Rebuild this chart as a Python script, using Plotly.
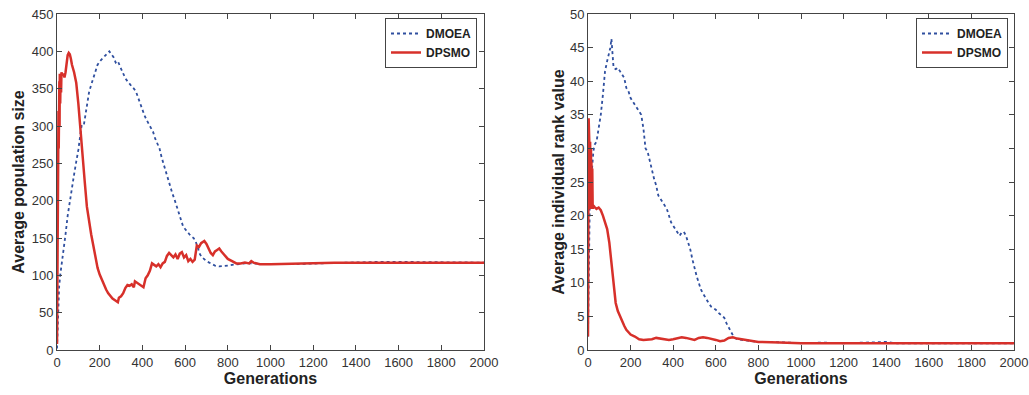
import plotly.graph_objects as go

# ---- Left panel: Average population size ----
pop_dmoea_gen = [0, 5, 10, 15, 20, 30, 40, 50, 60, 70, 80, 90, 100, 110, 115, 125, 135, 150, 160, 175,
                 190, 205, 220, 235, 245, 255, 265, 275, 285, 295, 310, 320, 330, 340, 350, 360, 370, 380,
                 390, 400, 410, 420, 430, 440, 450, 460, 470, 480, 490, 500, 510, 520, 530, 540, 550, 560,
                 570, 580, 590, 600, 610, 620, 630, 640, 650, 660, 670, 680, 690, 700, 720, 740, 760, 780,
                 800, 820, 840, 860, 880, 900, 950, 1000, 1100, 1200, 1300, 1400, 1500, 1600, 1700, 1800,
                 1850, 1900, 2000]
pop_dmoea_val = [2, 50, 85, 100, 110, 130, 155, 180, 200, 218, 235, 252, 268, 290, 300, 300, 318, 345, 355, 370,
                 382, 388, 393, 398, 400, 396, 392, 385, 387, 380, 370, 364, 360, 356, 353, 350, 346, 338,
                 330, 320, 314, 308, 302, 298, 292, 283, 276, 270, 258, 248, 240, 228, 218, 210, 202, 193,
                 185, 175, 166, 162, 158, 155, 152, 150, 145, 135, 128, 124, 121, 119, 116, 113, 112, 112,
                 113, 114, 115, 116, 116, 116, 115, 115, 115, 116, 117, 117, 118, 118, 118, 118,
                 117, 117, 117]

pop_dpsmo_gen = [0, 1, 2, 3, 4, 5, 6, 7, 8, 9, 10, 11, 12, 13, 15, 17, 19, 21, 25, 30, 35, 40, 45, 50, 55, 60,
                 65, 70, 80, 90, 100, 110, 120, 130, 140, 150, 160, 170, 180, 190, 200, 210, 220, 230, 240,
                 250, 260, 270, 280, 285, 290, 300, 310, 320, 330, 340, 350, 360, 365, 375, 385, 395, 405,
                 415, 425, 435, 445, 455, 465, 475, 485, 495, 505, 515, 525, 535, 545, 555, 565, 575, 585,
                 595, 605, 615, 625, 635, 645, 655, 665, 675, 690, 700, 710, 720, 730, 740, 750, 760, 770,
                 780, 790, 800, 820, 840, 860, 880, 900, 910, 920, 950, 1000, 1100, 1200, 1300, 1400, 1500,
                 1600, 1700, 1800, 2000]
pop_dpsmo_val = [8, 60, 130, 200, 260, 300, 250, 320, 270, 340, 280, 360, 300, 370, 330, 370, 345, 372, 368,
                 370, 365, 372, 385, 395, 398, 396, 390, 382, 372, 358, 330, 292, 262, 225, 192, 170, 155,
                 140, 122, 110, 101, 94, 87, 81, 76, 72, 69, 67, 65, 64, 70, 72, 76, 83, 87, 86, 88, 84,
                 92, 90, 88, 85, 84, 96, 100, 106, 116, 114, 112, 115, 111, 116, 118, 126, 130, 127, 124,
                 128, 122, 129, 131, 124, 127, 119, 122, 118, 121, 140, 138, 143, 146, 142, 136, 130, 127,
                 132, 134, 136, 132, 129, 125, 122, 119, 116, 116, 117, 116, 119, 117, 115, 115, 116, 116,
                 117, 117, 117, 117, 117, 117, 117]

# ---- Right panel: Average individual rank value ----
rank_dmoea_gen = [0, 2, 4, 6, 8, 12, 16, 20, 25, 30, 40, 50, 60, 70, 80, 90, 100, 105, 110, 115, 120, 130,
                  140, 150, 160, 170, 180, 190, 200, 210, 220, 230, 240, 250, 260, 270, 280, 290, 300, 310,
                  320, 330, 340, 350, 360, 370, 380, 390, 400, 410, 420, 430, 440, 450, 460, 470, 480, 490,
                  500, 510, 520, 530, 540, 550, 560, 570, 580, 590, 600, 610, 620, 630, 640, 650, 660, 670,
                  680, 690, 700, 720, 740, 760, 780, 800, 850, 900, 950, 1000, 1100, 1200, 1300, 1350, 1400,
                  1450, 1500, 2000]
rank_dmoea_val = [2, 10, 17, 19, 21, 24, 26, 28, 29.5, 30.5, 31, 33, 35, 38, 41.5, 43, 44.5, 45, 46.3, 44,
                  42, 41.8, 42, 41.5, 41, 40.5, 39, 38.5, 37.5, 37, 36.5, 36, 35.5, 35, 33, 30, 29.5, 28,
                  26.5, 25.5, 24.5, 23, 22.5, 22, 21.5, 21, 20, 19, 18.5, 18, 17.3, 17, 17.5, 17.6, 17, 16,
                  15, 13.5, 12, 11, 10, 9, 8.4, 7.8, 7.2, 6.8, 6.4, 6.2, 6, 5.6, 5.3, 5, 4.8, 4, 3.3, 2.8,
                  2.2, 1.8, 1.6, 1.5, 1.4, 1.4, 1.3, 1.2, 1.2, 1.2, 1.1, 1.0, 1.1, 1.0, 1.1, 1.2, 1.2, 1.0,
                  1.0, 1.0]

rank_dpsmo_gen = [0, 2, 3, 4, 5, 6, 7, 8, 9, 10, 11, 12, 13, 14, 15, 16, 18, 20, 22, 25, 30, 40, 50, 60, 70,
                  80, 90, 100, 105, 110, 120, 130, 140, 150, 160, 170, 180, 190, 200, 220, 240, 260, 280,
                  300, 320, 340, 360, 380, 400, 420, 440, 460, 480, 500, 520, 540, 560, 580, 600, 620, 640,
                  660, 680, 700, 720, 740, 760, 780, 800, 900, 1000, 2000]
rank_dpsmo_val = [2, 20, 34.5, 33, 22, 31, 21, 30, 22, 31, 21, 29, 22, 30, 21, 28, 22, 27, 21, 21.5, 21.3,
                  21, 21.2, 20.8, 20, 19, 18, 16, 14.5, 12, 9, 7, 5.8, 5, 4.2, 3.6, 3, 2.6, 2.3, 2, 1.6,
                  1.5, 1.5, 1.6, 1.8, 1.7, 1.6, 1.5, 1.6, 1.8, 1.9, 1.8, 1.7, 1.5, 1.8, 1.9, 1.8, 1.7, 1.5,
                  1.3, 1.4, 1.8, 1.9, 1.7, 1.6, 1.4, 1.3, 1.2, 1.2, 1.1, 1.0, 1.0]

x_ticks = list(range(0, 2001, 200))
pop_ticks = list(range(0, 451, 50))
rank_ticks = list(range(0, 51, 5))

BLUE = "#2f4f9f"
RED = "#d7302a"
FONT = "Liberation Sans, Arial, sans-serif"

fig = go.Figure()
fig.add_trace(go.Scatter(x=pop_dmoea_gen, y=pop_dmoea_val, mode="lines", name="DMOEA",
                         line=dict(color=BLUE, width=1.8, dash="dot"), xaxis="x", yaxis="y", legend="legend"))
fig.add_trace(go.Scatter(x=pop_dpsmo_gen, y=pop_dpsmo_val, mode="lines", name="DPSMO",
                         line=dict(color=RED, width=2.5), xaxis="x", yaxis="y", legend="legend"))
fig.add_trace(go.Scatter(x=rank_dmoea_gen, y=rank_dmoea_val, mode="lines", name="DMOEA",
                         line=dict(color=BLUE, width=1.8, dash="dot"), xaxis="x2", yaxis="y2", legend="legend2"))
fig.add_trace(go.Scatter(x=rank_dpsmo_gen, y=rank_dpsmo_val, mode="lines", name="DPSMO",
                         line=dict(color=RED, width=2.5), xaxis="x2", yaxis="y2", legend="legend2"))

axis_common = dict(showline=True, linecolor="#444", linewidth=1, mirror="ticks", ticks="inside",
                   ticklen=5, tickcolor="#444", showgrid=False, zeroline=False, automargin=False,
                   tickfont=dict(family=FONT, size=13, color="#333"))
title_font = dict(family=FONT, size=16, color="#222", weight="bold")

ydom = [1 - 350 / 395, 1 - 14 / 395]
legend_common = dict(yanchor="top", xanchor="right", bgcolor="white", bordercolor="#444", borderwidth=1,
                     font=dict(family=FONT, size=12, color="#222", weight="bold"),
                     tracegroupgap=0, itemwidth=30)
fig.update_layout(
    width=1029, height=395, margin=dict(l=0, r=0, t=0, b=0, autoexpand=False),
    paper_bgcolor="white", plot_bgcolor="white",
    xaxis=dict(domain=[57 / 1029, 484 / 1029], range=[0, 2000], tickvals=x_ticks, anchor="y",
               title=dict(text="Generations", font=title_font, standoff=2), **axis_common),
    yaxis=dict(domain=ydom, range=[0, 450], tickvals=pop_ticks, anchor="x",
               title=dict(text="Average population size", font=title_font, standoff=3), **axis_common),
    xaxis2=dict(domain=[588 / 1029, 1014 / 1029], range=[0, 2000], tickvals=x_ticks, anchor="y2",
                title=dict(text="Generations", font=title_font, standoff=2), **axis_common),
    yaxis2=dict(domain=ydom, range=[0, 50], tickvals=rank_ticks, anchor="x2",
                title=dict(text="Average individual rank value", font=title_font, standoff=1), **axis_common),
    legend=dict(x=477 / 1029, y=1 - 18 / 395, **legend_common),
    legend2=dict(x=1008 / 1029, y=1 - 18 / 395, **legend_common),
    showlegend=True,
)

fig.write_html("out.html", config={"displayModeBar": False},
               post_script="document.body.style.margin='0';")
